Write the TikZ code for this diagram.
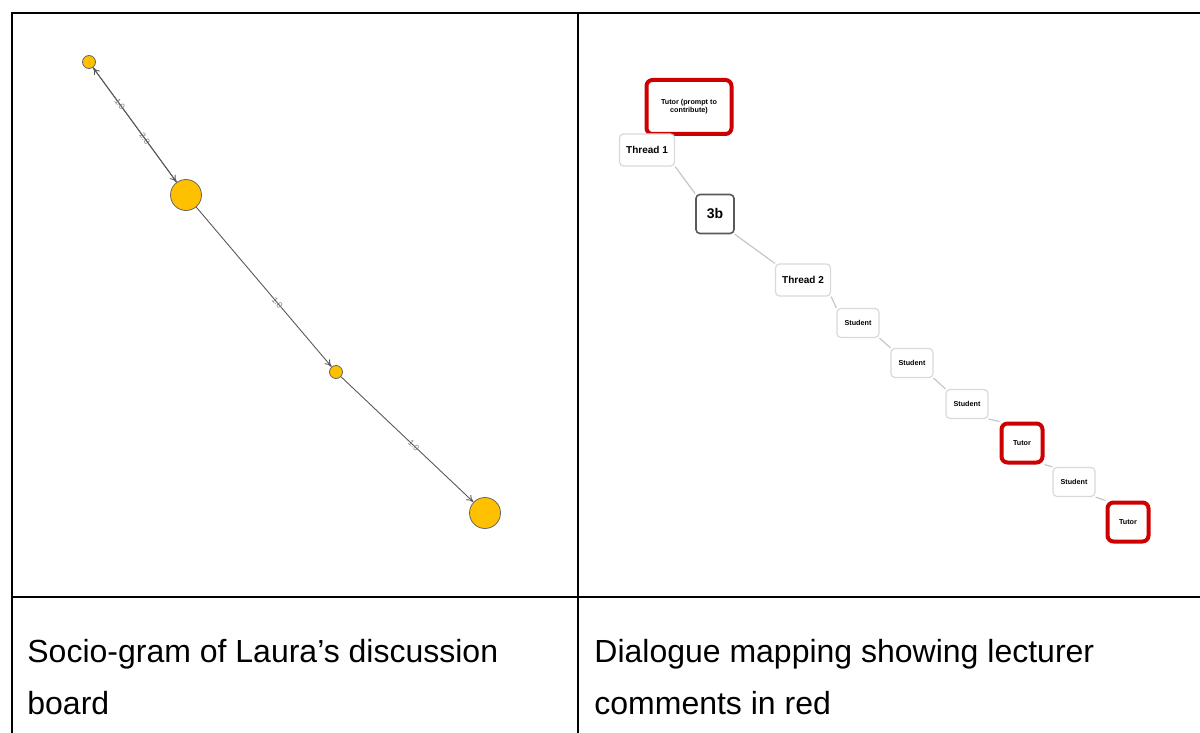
\documentclass[tikz,border=0pt]{standalone}
\usepackage{fontspec}
\setmainfont{Liberation Sans}
\usepackage{tikz}
\usetikzlibrary{arrows.meta}

\definecolor{gold}{HTML}{FFC000}
\definecolor{tutorred}{HTML}{CC0000}

\tikzset{
  person/.style={circle, draw=gray!80!black, fill=gold, inner sep=0pt, line width=0.4pt},
  tie/.style={-{To[length=3.5pt,width=3.5pt]}, draw=black!65, line width=0.45pt},
  weight/.style={font=\fontsize{4.2}{4.2}\selectfont, text=gray, sloped, inner sep=0.5pt},
  post/.style={draw=gray!30, rounded corners=2pt, fill=white, line width=0.6pt,
    font=\fontsize{3.6}{4}\selectfont\bfseries, inner sep=1pt,
    minimum width=21pt, minimum height=14.5pt},
  thread/.style={post, minimum width=27.5pt, minimum height=16pt, font=\fontsize{5}{5}\selectfont\bfseries},
  tutor/.style={post, draw=tutorred, line width=2pt, rounded corners=3pt},
  reply/.style={draw=gray!45, line width=0.6pt},
  caption/.style={anchor=base west, inner sep=0pt, font=\fontsize{16}{16}\selectfont}
}

\begin{document}
\begin{tikzpicture}[x=0.5pt,y=-0.5pt]
        \useasboundingbox (0,0) rectangle (1200,733);
        % table rules
        \draw [line width=1pt] (12,733) -- (12,13) -- (1200,13);
        \draw [line width=1pt] (578,13) -- (578,733);
        \draw [line width=1pt] (12,597) -- (1200,597);

        % socio-gram
        \node [person, minimum width=6.5pt] (laura) at (89,62) {};
        \node [person, minimum width=15.5pt] (stu1) at (186,195) {};
        \node [person, minimum width=6.5pt] (stu2) at (336,372) {};
        \node [person, minimum width=15.5pt] (stu3) at (485,513) {};
        \draw [tie] (laura) -- node[weight, pos=0.62] {2.0} (stu1);
        \draw [tie] (stu1) -- node[weight, pos=0.68] {1.0} (laura);
        \draw [tie] (stu1) -- node[weight, pos=0.6] {1.0} (stu2);
        \draw [tie] (stu2) -- node[weight, pos=0.55] {1.0} (stu3);

        % dialogue map
        \node [tutor, minimum width=42.5pt, minimum height=27pt, align=center] (prompt) at (689,107) {Tutor (prompt to\\contribute)};
        \node [thread] (t1) at (647,150) {Thread 1};
        \node [post, draw=black!65, line width=0.8pt, minimum width=19pt, minimum height=19.5pt,
               font=\fontsize{7}{7}\selectfont\bfseries] (topic) at (715,214) {3b};
        \node [thread] (t2) at (803,280) {Thread 2};
        \node [post] (s1) at (858,323) {Student};
        \node [post] (s2) at (912,363) {Student};
        \node [post] (s3) at (967,404) {Student};
        \node [tutor, minimum width=20.5pt, minimum height=19.5pt] (r1) at (1022,443) {Tutor};
        \node [post] (s4) at (1074,482) {Student};
        \node [tutor, minimum width=20.5pt, minimum height=19.5pt] (r2) at (1128,522) {Tutor};
        \draw [reply] (t1.south east) -- (topic.north west);
        \draw [reply] (topic.south east) -- (t2.north west);
        \draw [reply] (t2.south east) -- (s1.north west);
        \draw [reply] (s1.south east) -- (s2.north west);
        \draw [reply] (s2.south east) -- (s3.north west);
        \draw [reply] (s3.south east) -- (r1.north west);
        \draw [reply] (r1.south east) -- (s4.north west);
        \draw [reply] (s4.south east) -- (r2.north west);

        % captions
        \node [caption] (cap1) at (27,662) {Socio-gram of Laura’s discussion};
        \node [caption] (cap1b) at (27,714) {board};
        \node [caption] (cap2) at (594,662) {Dialogue mapping showing lecturer};
        \node [caption] (cap2b) at (594,714) {comments in red};
    \end{tikzpicture}
\end{document}
